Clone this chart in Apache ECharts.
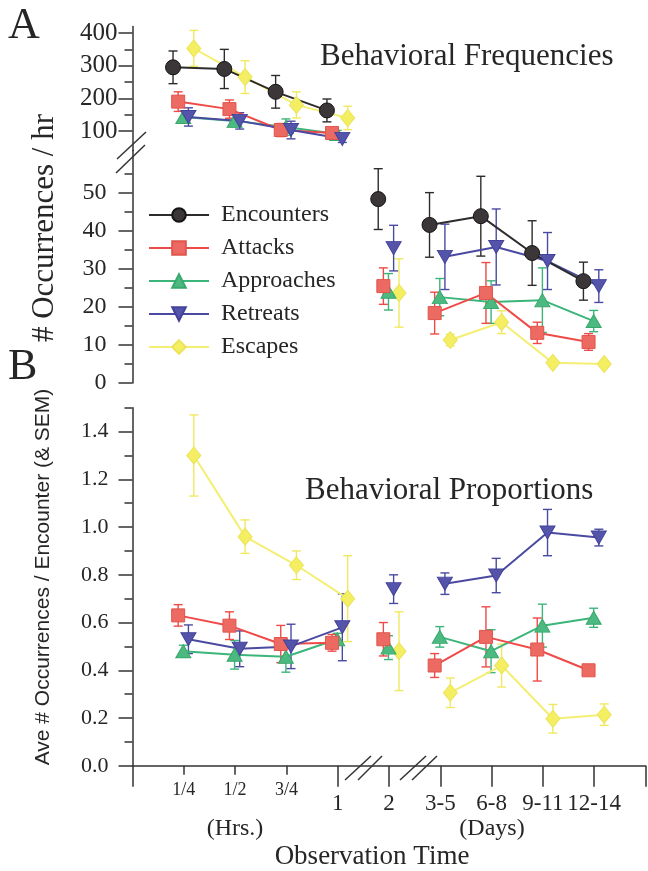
<!DOCTYPE html>
<html><head><meta charset="utf-8">
<script src="https://cdn.jsdelivr.net/npm/echarts@6/dist/echarts.min.js"></script>
<style>html,body{margin:0;padding:0;background:#fff}#c{width:648px;height:871px}</style>
</head><body><div id="c"></div>
<script>
// ---------------- DATA ----------------
const categories = ['1/4', '1/2', '3/4', '1', '2', '3-5', '6-8', '9-11', '12-14'];
const seriesNames = ['Encounters', 'Attacks', 'Approaches', 'Retreats', 'Escapes'];

// Panel A: occurrences per hour (first four points on the upper scale)
const freqEncounters    = [295, 290, 220, 163, 48.4, 41.6, 43.9, 34.2, 26.8];
const freqEncountersSem = [50, 60, 50, 35, 8, 8.5, 10.5, 8.5, 5];
const freqAttacks       = [190, 167, 103, 94, 25.5, 18.4, 23.7, 13.2, 10.8];
const freqAttacksSem    = [30, 28, 20, 15, 4.8, 5.5, 8, 2.8, 2.2];
const freqApproaches    = [143, 131, 112, 91, 24, 22.6, 21.3, 21.8, 16.3];
const freqApproachesSem = [18, 18, 25, 11, 4.8, 4.9, 5.6, 8.5, 2.8];
const freqRetreats      = [143, 131, 103, 76, 35.5, 33.2, 35.8, 32.1, 25.5];
const freqRetreatsSem   = [28, 25, 27, 11, 6, 8.6, 10, 7.5, 4.3];
const freqEscapes       = [353, 265, 180, 140, 23.7, 11.3, 16, 5.3, 5.0];
const freqEscapesSem    = [55, 50, 40, 36, 9, 1.5, 3, 0.8, 0.8];

// Panel B: average occurrences per encounter
const propAttacks       = [0.63, 0.587, 0.51, 0.515, 0.53, 0.42, 0.54, 0.487, 0.40];
const propAttacksSem    = [0.045, 0.058, 0.078, 0.035, 0.07, 0.05, 0.126, 0.132, 0.012];
const propApproaches    = [0.48, 0.465, 0.457, 0.53, 0.495, 0.54, 0.48, 0.587, 0.62];
const propApproachesSem = [0.025, 0.06, 0.065, 0.025, 0.05, 0.043, 0.09, 0.09, 0.04];
const propRetreats      = [0.53, 0.49, 0.50, 0.58, 0.74, 0.763, 0.797, 0.977, 0.956];
const propRetreatsSem   = [0.06, 0.075, 0.093, 0.14, 0.06, 0.045, 0.072, 0.097, 0.035];
const propEscapes       = [1.30, 0.96, 0.84, 0.70, 0.48, 0.306, 0.42, 0.197, 0.214];
const propEscapesSem    = [0.17, 0.07, 0.06, 0.18, 0.165, 0.062, 0.09, 0.06, 0.045];

// index groups that are joined by lines
const hourIdx = [0, 1, 2, 3];
const twoDayIdx = [4];
const dayIdx = [5, 6, 7, 8];

// tick labels
const freqUpperTicks = [100, 200, 300, 400];
const freqUpperMinor = [150, 250, 350];
const freqLowerTicks = [0, 10, 20, 30, 40, 50];
const freqLowerMinor = [5, 15, 25, 35, 45, 55];
const propTicks = [0, 0.2, 0.4, 0.6, 0.8, 1.0, 1.2, 1.4];
const propMinor = [0.1, 0.3, 0.5, 0.7, 0.9, 1.1, 1.3, 1.5];
const xSmallTicks = [1, 2, 3];
const xLargeTicks = [0, 4, 5, 6, 7, 8, 9, 10];
const xLargeLabels = [4, 5, 6, 7, 8, 9];

// ---------------- STYLE ----------------
const X_OFFSET = { Encounters: -0.21, Attacks: -0.11, Approaches: -0.01, Retreats: 0.09, Escapes: 0.195 };
const STYLE = {
  Encounters: { line: '#2e2b2b', fill: '#3b3637', border: '#151515', err: '#2e2b2b', symbol: 'circle', size: 15 },
  Attacks:    { line: '#f04a48', fill: '#ec6a62', border: '#e0554c', err: '#f04a48', symbol: 'rect', size: 13 },
  Approaches: { line: '#3cb57a', fill: '#4cba80', border: '#38a86c', err: '#3cb57a', symbol: 'triangle', size: [15, 13] },
  Retreats:   { line: '#4a4aa2', fill: '#5454aa', border: '#42429a', err: '#4a4aa2', symbol: 'path://M0,0L10,0L5,9Z', size: [15, 13] },
  Escapes:    { line: '#f4ef72', fill: '#f4ef62', border: '#ece35a', err: '#f0e960', symbol: 'diamond', size: [14, 17] }
};
const drawOrder = ['Escapes', 'Approaches', 'Attacks', 'Retreats', 'Encounters'];
const SERIF = 'Liberation Serif';
const INK = '#262626';
const axisLine = { color: '#333', width: 1.5 };

const freq = {
  Encounters: [freqEncounters, freqEncountersSem], Attacks: [freqAttacks, freqAttacksSem],
  Approaches: [freqApproaches, freqApproachesSem], Retreats: [freqRetreats, freqRetreatsSem],
  Escapes: [freqEscapes, freqEscapesSem]
};
const prop = {
  Attacks: [propAttacks, propAttacksSem], Approaches: [propApproaches, propApproachesSem],
  Retreats: [propRetreats, propRetreatsSem], Escapes: [propEscapes, propEscapesSem]
};

// ---------------- SERIES ----------------
const series = [];
function addGroup(name, xAxisIndex, yAxisIndex, means, sems, segs) {
  const st = STYLE[name];
  const pt = i => [i + 1 + X_OFFSET[name], means[i]];
  series.push({
    type: 'custom', name: name + ' SEM', xAxisIndex, yAxisIndex, z: 2, silent: true,
    data: [].concat(...segs).map(i => [i + 1 + X_OFFSET[name], means[i], sems[i]]),
    encode: { x: 0, y: 1 },
    renderItem: (params, api) => {
      const x = api.value(0), m = api.value(1), s = api.value(2);
      const a = api.coord([x, m + s]), b = api.coord([x, m - s]);
      const w = 4.5;
      const style = { stroke: st.err, lineWidth: 1.4 };
      return { type: 'group', children: [
        { type: 'line', shape: { x1: a[0], y1: a[1], x2: b[0], y2: b[1] }, style },
        { type: 'line', shape: { x1: a[0] - w, y1: a[1], x2: a[0] + w, y2: a[1] }, style },
        { type: 'line', shape: { x1: b[0] - w, y1: b[1], x2: b[0] + w, y2: b[1] }, style }
      ] };
    }
  });
  segs.forEach(seg => series.push({
    type: 'line', name, xAxisIndex, yAxisIndex, z: 3, clip: false,
    data: seg.map(pt),
    symbol: st.symbol, symbolSize: st.size, showSymbol: true, showAllSymbol: true,
    lineStyle: { color: st.line, width: 2 },
    itemStyle: { color: st.fill, borderColor: st.border, borderWidth: 1 },
    emphasis: { disabled: true }
  }));
}
drawOrder.forEach(n => addGroup(n, 0, 0, freq[n][0], freq[n][1], [hourIdx]));
drawOrder.forEach(n => addGroup(n, 1, 2, freq[n][0], freq[n][1], [twoDayIdx, dayIdx]));
drawOrder.filter(n => prop[n]).forEach(n => addGroup(n, 2, 4, prop[n][0], prop[n][1], [hourIdx, twoDayIdx, dayIdx]));

// ---------------- AXES ----------------
function yMajor(grid, min, max, ticks, fmt, fontSize, margin) {
  return { type: 'value', gridIndex: grid, position: 'left', min, max,
    axisLine: { show: true, onZero: false, lineStyle: axisLine },
    axisTick: { show: true, length: 14, lineStyle: axisLine, customValues: ticks },
    axisLabel: { show: true, customValues: ticks, formatter: fmt, fontSize, margin, fontFamily: SERIF, color: INK },
    splitLine: { show: false } };
}
function yMinor(grid, min, max, ticks) {
  return { type: 'value', gridIndex: grid, position: 'left', min, max,
    axisLine: { show: false }, axisTick: { show: true, length: 8, lineStyle: axisLine, customValues: ticks },
    axisLabel: { show: false }, splitLine: { show: false } };
}
const xLabel = v => categories[Math.round(v) - 1] || '';

const option = {
  animation: false,
  backgroundColor: '#fff',
  grid: [
    { left: 132.5, top: 26.5, width: 513, height: 124.1, containLabel: false },
    { left: 132.5, top: 150.6, width: 513, height: 232.4, containLabel: false },
    { left: 132.5, top: 407.75, width: 513, height: 358.0, containLabel: false }
  ],
  xAxis: [
    { type: 'value', gridIndex: 0, min: 0, max: 10, show: false },
    { type: 'value', gridIndex: 1, min: 0, max: 10, show: false },
    { type: 'value', gridIndex: 2, min: 0, max: 10, position: 'bottom',
      axisLine: { show: true, onZero: false, lineStyle: axisLine },
      axisTick: { show: true, length: 9, lineStyle: axisLine, customValues: xSmallTicks },
      axisLabel: { customValues: xSmallTicks, formatter: xLabel, fontSize: 18, margin: 16, fontFamily: SERIF, color: INK },
      splitLine: { show: false } },
    { type: 'value', gridIndex: 2, min: 0, max: 10, position: 'bottom',
      axisLine: { show: false, onZero: false },
      axisTick: { show: true, length: 21, lineStyle: axisLine, customValues: xLargeTicks },
      axisLabel: { customValues: xLargeLabels, formatter: xLabel, fontSize: 23, margin: 27, fontFamily: SERIF, color: INK },
      splitLine: { show: false } }
  ],
  yAxis: [
    yMajor(0, 40, 420, freqUpperTicks, v => String(v), 25, 15),
    yMinor(0, 40, 420, freqUpperMinor),
    yMajor(1, 0, 61.16, freqLowerTicks, v => String(v), 24, 26),
    yMinor(1, 0, 61.16, freqLowerMinor),
    yMajor(2, 0, 1.5, propTicks, v => v.toFixed(1), 22, 24),
    yMinor(2, 0, 1.5, propMinor)
  ],
  legend: {
    data: seriesNames, orient: 'vertical', left: 148, top: 203, padding: 0,
    itemWidth: 60, itemHeight: 17, itemGap: 9, selectedMode: false,
    textStyle: { fontFamily: SERIF, fontSize: 24, color: INK, padding: [0, 0, 0, 7] }
  },
  graphic: [
    { type: 'text', x: 8, y: 26, style: { text: 'A', font: '44px "Liberation Serif"', fill: INK, align: 'left', verticalAlign: 'middle' } },
    { type: 'text', x: 8, y: 367, style: { text: 'B', font: '44px "Liberation Serif"', fill: INK, align: 'left', verticalAlign: 'middle' } },
    { type: 'text', x: 320, y: 57, style: { text: 'Behavioral Frequencies', font: '31px "Liberation Serif"', fill: INK, align: 'left', verticalAlign: 'middle' } },
    { type: 'text', x: 305, y: 491, style: { text: 'Behavioral Proportions', font: '31px "Liberation Serif"', fill: INK, align: 'left', verticalAlign: 'middle' } },
    { type: 'text', x: 45, y: 228, rotation: Math.PI / 2, style: { text: '# Occurrences / hr', font: '31px "Liberation Serif"', fill: INK, align: 'center', verticalAlign: 'middle' } },
    { type: 'text', x: 43, y: 577, rotation: Math.PI / 2, style: { text: 'Ave # Occurrences / Encounter (& SEM)', font: '21px "Liberation Sans"', fill: INK, align: 'center', verticalAlign: 'middle' } },
    { type: 'text', x: 235, y: 829, style: { text: '(Hrs.)', font: '24px "Liberation Serif"', fill: INK, align: 'center', verticalAlign: 'middle' } },
    { type: 'text', x: 492, y: 829, style: { text: '(Days)', font: '24px "Liberation Serif"', fill: INK, align: 'center', verticalAlign: 'middle' } },
    { type: 'text', x: 372, y: 857, style: { text: 'Observation Time', font: '27px "Liberation Serif"', fill: INK, align: 'center', verticalAlign: 'middle' } },
    // axis break marks
    { type: 'line', shape: { x1: 117, y1: 159, x2: 146, y2: 132 }, style: { stroke: '#333', lineWidth: 1.5 } },
    { type: 'line', shape: { x1: 116, y1: 173, x2: 145, y2: 145 }, style: { stroke: '#333', lineWidth: 1.5 } },
    { type: 'line', shape: { x1: 345, y1: 780, x2: 371, y2: 756 }, style: { stroke: '#333', lineWidth: 1.5 } },
    { type: 'line', shape: { x1: 358, y1: 780, x2: 382, y2: 756 }, style: { stroke: '#333', lineWidth: 1.5 } },
    { type: 'line', shape: { x1: 400, y1: 780, x2: 426, y2: 756 }, style: { stroke: '#333', lineWidth: 1.5 } },
    { type: 'line', shape: { x1: 412, y1: 780, x2: 437, y2: 756 }, style: { stroke: '#333', lineWidth: 1.5 } }
  ],
  series
};

const chart = echarts.init(document.getElementById('c'), null, { renderer: 'canvas', width: 648, height: 871 });
chart.setOption(option);
</script>
</body></html>
